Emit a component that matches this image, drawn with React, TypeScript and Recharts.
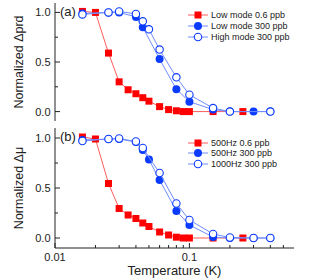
import React from 'react';
import { ScatterChart, Scatter, XAxis, YAxis, Label } from 'recharts';

const X_TICKS = [0.01, 0.02, 0.03, 0.04, 0.05, 0.06, 0.07, 0.08, 0.09, 0.1, 0.2, 0.3, 0.4, 0.5];
const X_LABELS: Record<string, string> = { '0.01': '0.01', '0.1': '0.1' };
const Y_TICKS = [0, 0.25, 0.5, 0.75, 1];
const Y_LABELS: Record<string, string> = { '0': '0.0', '0.5': '0.5', '1': '1.0' };

// panel (a)
const A_RED_T = [0.016, 0.02, 0.025, 0.03, 0.035, 0.04, 0.045, 0.05, 0.06, 0.07, 0.08, 0.09, 0.1, 0.15, 0.25];
const A_RED_V = [1.01, 1.0, 0.59, 0.3, 0.22, 0.18, 0.14, 0.105, 0.05, 0.02, 0.008, 0, 0, 0, 0];
const A_FILL_T = [0.016, 0.025, 0.03, 0.04, 0.045, 0.06, 0.08, 0.1, 0.15, 0.2, 0.3, 0.4];
const A_FILL_V = [0.99, 1.0, 1.0, 0.955, 0.85, 0.53, 0.225, 0.1, 0.02, 0, 0, 0];
const A_OPEN_T = [0.016, 0.025, 0.03, 0.04, 0.045, 0.05, 0.06, 0.08, 0.1, 0.15, 0.2, 0.4];
const A_OPEN_V = [0.98, 1.0, 1.01, 0.985, 0.91, 0.83, 0.625, 0.345, 0.17, 0.035, 0, 0];
const A_LEGEND = ['Low mode 0.6 ppb', 'Low mode 300 ppb', 'High mode 300 ppb'];

// panel (b)
const B_RED_T = [0.016, 0.02, 0.025, 0.03, 0.035, 0.04, 0.045, 0.05, 0.06, 0.07, 0.08, 0.09, 0.1, 0.15, 0.25];
const B_RED_V = [1.01, 0.99, 0.545, 0.295, 0.23, 0.195, 0.15, 0.115, 0.06, 0.03, 0.008, 0, 0, 0, 0];
const B_FILL_T = [0.016, 0.025, 0.03, 0.04, 0.045, 0.05, 0.06, 0.08, 0.1, 0.15, 0.2, 0.3, 0.4];
const B_FILL_V = [0.98, 0.99, 0.99, 0.96, 0.88, 0.785, 0.58, 0.27, 0.13, 0.01, 0, 0, 0];
const B_OPEN_T = [0.016, 0.025, 0.03, 0.04, 0.045, 0.06, 0.08, 0.1, 0.15, 0.2, 0.3, 0.4];
const B_OPEN_V = [0.97, 0.99, 0.995, 0.965, 0.9, 0.65, 0.345, 0.18, 0.04, 0.005, 0, 0];
const B_LEGEND = ['500Hz 0.6 ppb', '500Hz 300 ppb', '1000Hz 300 ppb'];

const AX = '#222';
const RED = '#ff0000';
const RED_LINE = '#ff5c5c';
const BLUE = '#0b3bff';
const BLUE_LINE = '#6f8dff';

const pts = (t: number[], v: number[]) => t.map((x, i) => ({ t: x, v: v[i] }));

const Square = (p: any) => <rect x={p.cx - 3.5} y={p.cy - 3.5} width={7} height={7} fill={RED} />;
const Dot = (p: any) => <circle cx={p.cx} cy={p.cy} r={4} fill={BLUE} />;
const Ring = (p: any) => <circle cx={p.cx} cy={p.cy} r={3.7} fill="#fff" stroke={BLUE} strokeWidth={1.1} />;

const isMajorX = (v: number) => String(v) in X_LABELS;

function BottomTick(p: any) {
  const v = p.payload.value;
  const major = isMajorX(v);
  return (
    <g>
      <line x1={p.x} x2={p.x} y1={p.y} y2={p.y - (major ? 5 : 3)} stroke={AX} />
      {p.showLabel && major && (
        <text x={p.x} y={p.y + 13} textAnchor="middle" fontSize={11} fill={AX}>{X_LABELS[String(v)]}</text>
      )}
    </g>
  );
}

function TopTick(p: any) {
  const major = isMajorX(p.payload.value);
  return <line x1={p.x} x2={p.x} y1={p.y} y2={p.y + (major ? 5 : 3)} stroke={AX} />;
}

function LeftTick(p: any) {
  const lab = Y_LABELS[String(p.payload.value)];
  return (
    <g>
      <line x1={p.x} x2={p.x + (lab ? 5 : 3)} y1={p.y} y2={p.y} stroke={AX} />
      {lab && (
        <text x={p.x - 4.5} y={p.y + 4} textAnchor="end" fontSize={11} fill={AX}>{lab}</text>
      )}
    </g>
  );
}

function RightTick(p: any) {
  const lab = Y_LABELS[String(p.payload.value)];
  return <line x1={p.x} x2={p.x - (lab ? 5 : 3)} y1={p.y} y2={p.y} stroke={AX} />;
}

function Panel({ top, height, margin, yDomain, yTitle, red, fill, open, showX }: any) {
  return (
    <div style={{ position: 'absolute', left: 0, top }}>
      <ScatterChart width={316} height={height} margin={margin}>
        <XAxis
          xAxisId="b" type="number" dataKey="t" scale="log" domain={[0.01, 0.6]} allowDataOverflow
          ticks={X_TICKS} interval={0} tickSize={0} tickMargin={0} tickLine={false}
          axisLine={{ stroke: AX }} height={showX ? 32 : 0}
          tick={(p: any) => <BottomTick {...p} showLabel={showX} />}
        >
          {showX && <Label value="Temperature (K)" position="insideBottom" offset={5} fontSize={13} fill={AX} />}
        </XAxis>
        <XAxis
          xAxisId="t" orientation="top" type="number" scale="log" domain={[0.01, 0.6]} allowDataOverflow
          ticks={X_TICKS} interval={0} tickSize={0} tickMargin={0} tickLine={false}
          axisLine={{ stroke: AX }} height={0} tick={(p: any) => <TopTick {...p} />}
        />
        <YAxis
          yAxisId="l" type="number" dataKey="v" domain={yDomain} allowDataOverflow
          ticks={Y_TICKS} interval={0} tickSize={0} tickMargin={0} tickLine={false}
          axisLine={{ stroke: AX }} width={55} tick={(p: any) => <LeftTick {...p} />}
        >
          <Label value={yTitle} angle={-90} position="center" dx={-9} fontSize={12.5} fill={AX} />
        </YAxis>
        <YAxis
          yAxisId="r" orientation="right" type="number" domain={yDomain} allowDataOverflow
          ticks={Y_TICKS} interval={0} tickSize={0} tickMargin={0} tickLine={false}
          axisLine={{ stroke: AX }} width={0} tick={(p: any) => <RightTick {...p} />}
        />
        <Scatter xAxisId="b" yAxisId="l" data={red} shape={Square} line={{ stroke: RED_LINE, strokeWidth: 1 }} lineType="joint" isAnimationActive={false} />
        <Scatter xAxisId="b" yAxisId="l" data={fill} shape={Dot} line={{ stroke: BLUE_LINE, strokeWidth: 1 }} lineType="joint" isAnimationActive={false} />
        <Scatter xAxisId="b" yAxisId="l" data={open} shape={Ring} line={{ stroke: BLUE_LINE, strokeWidth: 1 }} lineType="joint" isAnimationActive={false} />
      </ScatterChart>
    </div>
  );
}

function LegendRow({ y, kind, label }: { y: number; kind: number; label: string }) {
  const lineColor = kind === 0 ? RED_LINE : BLUE_LINE;
  return (
    <div style={{ position: 'absolute', left: 186, top: y - 6, height: 12, display: 'flex', alignItems: 'center', fontSize: 9, color: AX, whiteSpace: 'nowrap' }}>
      <svg width={24} height={12} style={{ display: 'block' }}>
        <line x1={2} x2={22} y1={6} y2={6} stroke={lineColor} />
        {kind === 0 && <rect x={8.5} y={2.5} width={7} height={7} fill={RED} />}
        {kind === 1 && <circle cx={12} cy={6} r={4} fill={BLUE} />}
        {kind === 2 && <circle cx={12} cy={6} r={3.7} fill="#fff" stroke={BLUE} strokeWidth={1.1} />}
      </svg>
      <span style={{ marginLeft: 1 }}>{label}</span>
    </div>
  );
}

export default function App() {
  return (
    <div style={{ position: 'absolute', left: 0, top: 0, width: 316, height: 280, background: '#fff', fontFamily: '"Liberation Sans", Arial, sans-serif' }}>
      <Panel
        top={0} height={124} margin={{ top: 3, right: 22, bottom: 3, left: 0 }}
        yDomain={[-0.095, 1.095]} yTitle="Normalized Δprd"
        red={pts(A_RED_T, A_RED_V)} fill={pts(A_FILL_T, A_FILL_V)} open={pts(A_OPEN_T, A_OPEN_V)} showX={false}
      />
      <Panel
        top={124} height={156} margin={{ top: 4, right: 22, bottom: 0, left: 0 }}
        yDomain={[-0.1, 1.1]} yTitle="Normalized Δμ"
        red={pts(B_RED_T, B_RED_V)} fill={pts(B_FILL_T, B_FILL_V)} open={pts(B_OPEN_T, B_OPEN_V)} showX
      />
      <div style={{ position: 'absolute', left: 60, top: 4, fontSize: 13, color: AX }}>(a)</div>
      <div style={{ position: 'absolute', left: 60, top: 129, fontSize: 13, color: AX }}>(b)</div>
      {A_LEGEND.map((l, i) => <LegendRow key={l} y={[15, 25.7, 36.7][i]} kind={i} label={l} />)}
      {B_LEGEND.map((l, i) => <LegendRow key={l} y={[142.7, 153.3, 164][i]} kind={i} label={l} />)}
    </div>
  );
}
